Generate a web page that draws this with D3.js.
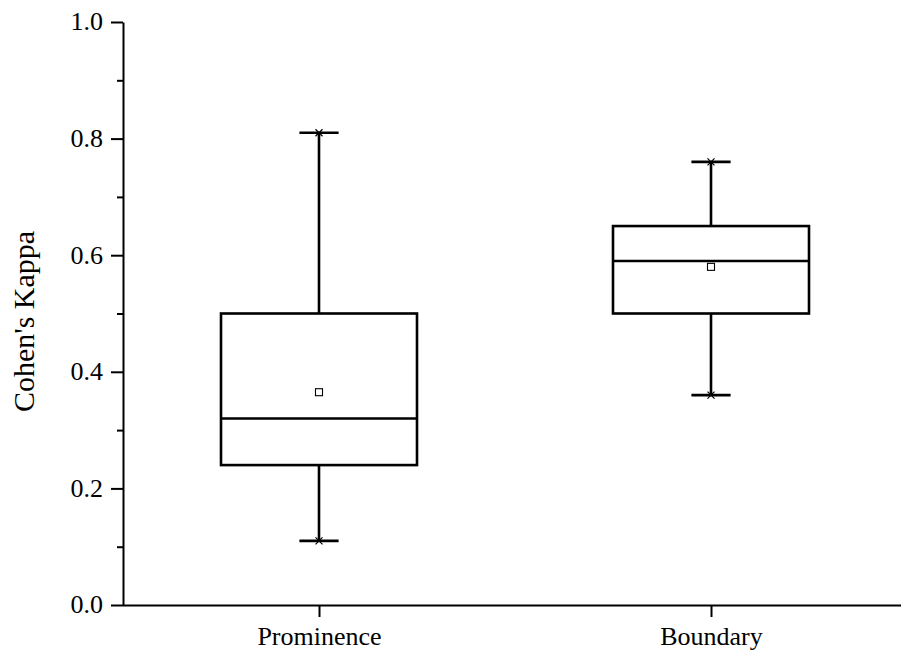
<!DOCTYPE html>
<html>
<head>
<meta charset="utf-8">
<script src="https://cdn.jsdelivr.net/npm/d3@7"></script>
<style>
  html, body { margin: 0; padding: 0; background: #fff; }
  svg { display: block; }
</style>
</head>
<body>
<svg id="chart" width="901" height="652"></svg>
<script>
// Inter-rater agreement per annotation task
const categories   = ["Prominence", "Boundary"];
const whiskerLow   = [0.11, 0.36];
const q1           = [0.24, 0.50];
const median       = [0.32, 0.59];
const q3           = [0.50, 0.65];
const whiskerHigh  = [0.81, 0.76];
const mean         = [0.365, 0.58];
const yTicks       = [0.0, 0.2, 0.4, 0.6, 0.8, 1.0];
const yMinorTicks  = [0.1, 0.3, 0.5, 0.7, 0.9];
const yLabel       = "Cohen's Kappa";

const FONT = "Liberation Serif";
const svg = d3.select("#chart");
const plotLeft = 123, plotRight = 907, plotTop = 22, plotBottom = 605;

const x = d3.scalePoint().domain(categories).range([plotLeft, plotRight]).padding(0.5);
const y = d3.scaleLinear().domain([0, 1]).range([plotBottom, plotTop]);
const step = x.step();
const boxW = step * 0.5;
const capW = boxW * 0.2;

const rows = categories.map((c, i) => ({
  c, lo: whiskerLow[i], q1: q1[i], med: median[i], q3: q3[i], hi: whiskerHigh[i], mean: mean[i]
}));

// Boxes, whiskers and caps
const g = svg.append("g");
const box = g.selectAll("g.box").data(rows).join("g").attr("class", "box");

box.append("line")
  .attr("x1", d => x(d.c)).attr("x2", d => x(d.c))
  .attr("y1", d => y(d.q3)).attr("y2", d => y(d.hi))
  .attr("stroke", "#000").attr("stroke-width", 2.6);
box.append("line")
  .attr("x1", d => x(d.c)).attr("x2", d => x(d.c))
  .attr("y1", d => y(d.q1)).attr("y2", d => y(d.lo))
  .attr("stroke", "#000").attr("stroke-width", 2.6);

["hi", "lo"].forEach(k => {
  box.append("line")
    .attr("x1", d => x(d.c) - capW / 2).attr("x2", d => x(d.c) + capW / 2)
    .attr("y1", d => y(d[k])).attr("y2", d => y(d[k]))
    .attr("stroke", "#000").attr("stroke-width", 2.6);
  // small cross marking the whisker end point
  box.append("path")
    .attr("transform", d => `translate(${x(d.c)},${y(d[k])})`)
    .attr("d", "M-3.5,-3.5L3.5,3.5M-3.5,3.5L3.5,-3.5")
    .attr("stroke", "#000").attr("stroke-width", 1.2);
});

box.append("rect")
  .attr("x", d => x(d.c) - boxW / 2).attr("width", boxW)
  .attr("y", d => y(d.q3)).attr("height", d => y(d.q1) - y(d.q3))
  .attr("fill", "none").attr("stroke", "#000").attr("stroke-width", 2.6);

box.append("line")
  .attr("x1", d => x(d.c) - boxW / 2).attr("x2", d => x(d.c) + boxW / 2)
  .attr("y1", d => y(d.med)).attr("y2", d => y(d.med))
  .attr("stroke", "#000").attr("stroke-width", 2.6);

box.append("rect")
  .attr("x", d => x(d.c) - 3.5).attr("y", d => y(d.mean) - 3.5)
  .attr("width", 7).attr("height", 7)
  .attr("fill", "#fff").attr("stroke", "#000").attr("stroke-width", 1.1);

// Y axis with major and minor ticks
const yAxis = svg.append("g").attr("transform", `translate(${plotLeft},0)`)
  .attr("font-family", FONT)
  .call(d3.axisLeft(y).tickValues(yTicks).tickFormat(d3.format(".1f")).tickSize(12).tickPadding(8).tickSizeOuter(0));
yAxis.attr("font-family", FONT).attr("font-size", 26);
yAxis.selectAll(".tick text")
  .attr("font-family", FONT).attr("font-size", 26)
  .attr("fill", "#000").attr("dy", "0.3em");
svg.append("g").attr("transform", `translate(${plotLeft},0)`)
  .call(d3.axisLeft(y).tickValues(yMinorTicks).tickFormat("").tickSize(6).tickSizeOuter(0))
  .select(".domain").remove();

// X axis
const xAxis = svg.append("g").attr("transform", `translate(0,${plotBottom})`)
  .call(d3.axisBottom(x).tickSize(12).tickSizeOuter(0));
xAxis.attr("font-family", FONT).attr("font-size", 26);
xAxis.select(".domain").attr("d", `M${plotLeft},0.5H901`);
xAxis.selectAll(".tick text")
  .attr("font-family", FONT).attr("font-size", 26)
  .attr("fill", "#000").attr("y", 40).attr("dy", 0);

svg.selectAll(".domain, .tick line").attr("stroke", "#000").attr("stroke-width", 2);

// Y axis title
svg.append("text")
  .attr("transform", `translate(34,${(230 + 413) / 2}) rotate(-90)`)
  .attr("text-anchor", "middle")
  .attr("fill", "#000")
  .attr("font-family", FONT).attr("font-size", 30)
  .text(yLabel);
</script>
</body>
</html>
